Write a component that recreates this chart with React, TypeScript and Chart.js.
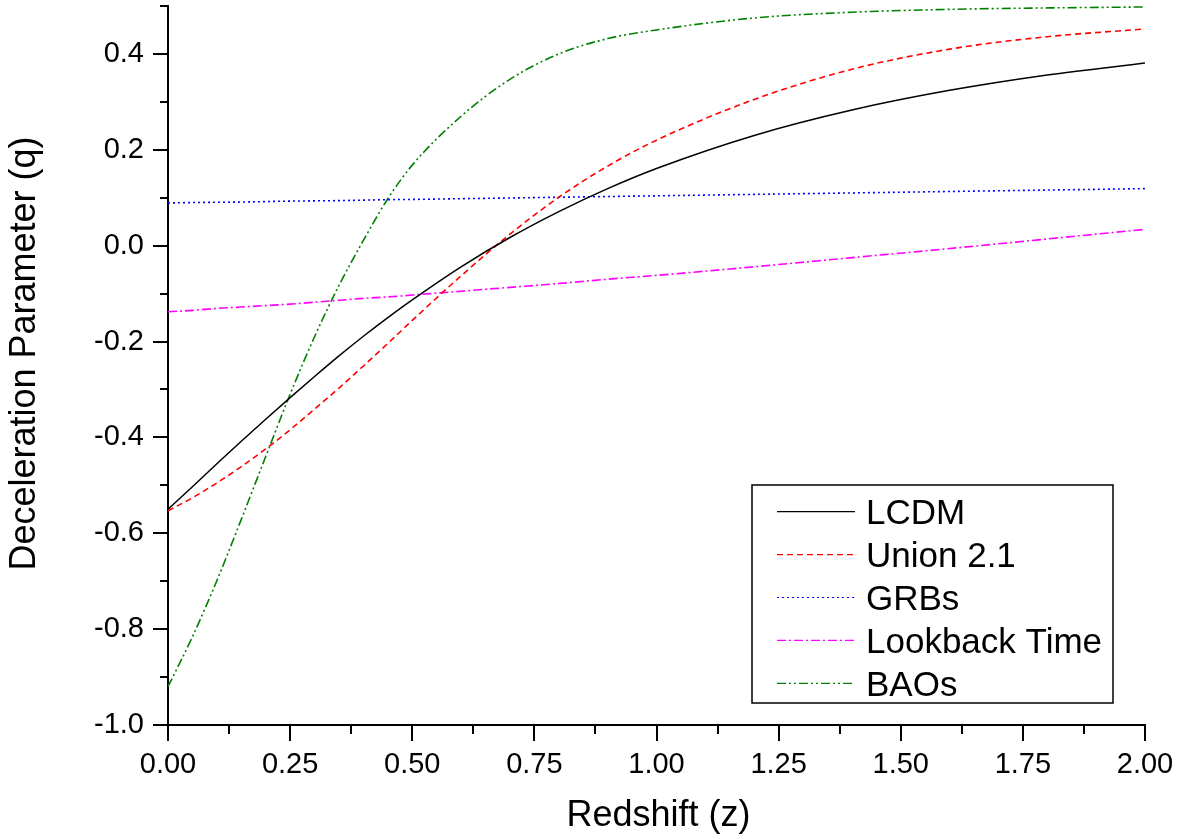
import React, { useEffect, useRef } from 'react';
import { Chart, registerables } from 'chart.js';

Chart.register(...registerables);

// ---- data ----
const redshift = [0, 0.05, 0.1, 0.15, 0.2, 0.25, 0.3, 0.35, 0.4, 0.45, 0.5, 0.6, 0.7, 0.8, 0.9, 1.0, 1.2, 1.4, 1.6, 1.8, 2.0];
const lcdm = [-0.55, -0.503, -0.455, -0.408, -0.362, -0.317, -0.273, -0.23, -0.189, -0.15, -0.113, -0.044, 0.017, 0.071, 0.119, 0.161, 0.23, 0.283, 0.324, 0.356, 0.381];
const union21 = [-0.553, -0.526, -0.495, -0.461, -0.424, -0.384, -0.341, -0.297, -0.251, -0.204, -0.156, -0.063, 0.024, 0.101, 0.166, 0.22, 0.305, 0.368, 0.41, 0.436, 0.452];
const grbs = [0.089, 0.09, 0.0905, 0.091, 0.092, 0.093, 0.0935, 0.094, 0.095, 0.096, 0.0965, 0.098, 0.0995, 0.101, 0.1025, 0.104, 0.107, 0.11, 0.113, 0.116, 0.119];
const lookback = [-0.138, -0.135, -0.131, -0.128, -0.125, -0.122, -0.118, -0.114, -0.11, -0.107, -0.103, -0.095, -0.087, -0.079, -0.07, -0.062, -0.044, -0.025, -0.006, 0.014, 0.034];
const baos = [-0.92, -0.816, -0.699, -0.571, -0.44, -0.31, -0.19, -0.083, 0.011, 0.098, 0.168, 0.27, 0.347, 0.4, 0.432, 0.45, 0.475, 0.487, 0.493, 0.496, 0.498];

const seriesNames = ['LCDM', 'Union 2.1', 'GRBs', 'Lookback Time', 'BAOs'];
const seriesValues = [lcdm, union21, grbs, lookback, baos];
const seriesColors = ['#000000', '#ff0000', '#0000ff', '#ff00ff', '#008000'];
const seriesDashes: number[][] = [[], [6, 4], [2, 3], [9, 3, 2, 3], [9, 3, 2, 3, 2, 3]];

const xMin = 0;
const xMax = 2;
const xStep = 0.25;
const yMin = -1;
const yMax = 0.5;
const yStep = 0.1;
const xAxisTitle = 'Redshift (z)';
const yAxisTitle = 'Deceleration Parameter (q)';

const FONT = '"Liberation Sans", Arial, sans-serif';

const decorPlugin = {
  id: 'decor',
  afterDraw(chart: any) {
    const ctx = chart.ctx as CanvasRenderingContext2D;
    const xs = chart.scales.x;
    const ys = chart.scales.y;
    const area = chart.chartArea;
    ctx.save();
    ctx.strokeStyle = '#000';
    ctx.lineWidth = 2;
    ctx.setLineDash([]);
    // y ticks (major every 0.2, minor between)
    for (const t of ys.ticks) {
      const major = Math.abs(Math.round(t.value * 10)) % 2 === 0;
      const py = Math.round(ys.getPixelForValue(t.value));
      const len = major ? 15 : 8;
      ctx.beginPath();
      ctx.moveTo(area.left - len, py);
      ctx.lineTo(area.left, py);
      ctx.stroke();
    }
    // x ticks (major at labels, minor at midpoints)
    const xt = xs.ticks.map((t: any) => t.value);
    xt.forEach((v: number, i: number) => {
      const px = Math.round(xs.getPixelForValue(v));
      ctx.beginPath();
      ctx.moveTo(px, area.bottom);
      ctx.lineTo(px, area.bottom + 16);
      ctx.stroke();
      if (i < xt.length - 1) {
        const pm = Math.round(xs.getPixelForValue((v + xt[i + 1]) / 2));
        ctx.beginPath();
        ctx.moveTo(pm, area.bottom);
        ctx.lineTo(pm, area.bottom + 9);
        ctx.stroke();
      }
    });

    // axis titles
    ctx.fillStyle = '#000';
    ctx.font = `36px ${FONT}`;
    ctx.textAlign = 'center';
    ctx.textBaseline = 'alphabetic';
    ctx.fillText(xAxisTitle, (area.left + area.right) / 2 + 2, 826);
    ctx.save();
    ctx.translate(35, (area.top + area.bottom) / 2 - 12);
    ctx.rotate(-Math.PI / 2);
    ctx.fillText(yAxisTitle, 0, 0);
    ctx.restore();

    // legend box
    const bx = 752, by = 485, bw = 361, bh = 218;
    ctx.lineWidth = 1.5;
    ctx.strokeStyle = '#000';
    ctx.strokeRect(bx, by, bw, bh);
    ctx.font = `35px ${FONT}`;
    ctx.textAlign = 'left';
    seriesNames.forEach((name, i) => {
      const cy = 511.7 + i * 42.9;
      ctx.save();
      ctx.strokeStyle = seriesColors[i];
      ctx.lineWidth = 1.2;
      ctx.setLineDash(seriesDashes[i]);
      ctx.beginPath();
      ctx.moveTo(777, cy);
      ctx.lineTo(855, cy);
      ctx.stroke();
      ctx.restore();
      ctx.fillStyle = '#000';
      ctx.fillText(name, 866, cy + 12.5);
    });
    ctx.restore();
  },
};

export default function App() {
  const canvasRef = useRef<HTMLCanvasElement | null>(null);

  useEffect(() => {
    const canvas = canvasRef.current;
    if (!canvas) return;
    const datasets = seriesNames.map((name, i) => ({
      label: name,
      data: redshift.map((z, j) => ({ x: z, y: seriesValues[i][j] })),
      borderColor: seriesColors[i],
      backgroundColor: seriesColors[i],
      borderWidth: i === 0 ? 1.5 : 1.6,
      borderDash: seriesDashes[i],
      pointRadius: 0,
      fill: false,
      cubicInterpolationMode: 'monotone' as const,
    }));
    const chart = new Chart(canvas, {
      type: 'line',
      data: { datasets },
      options: {
        responsive: false,
        animation: false,
        events: [],
        layout: { padding: { left: 0, top: 6, right: 44, bottom: 0 } },
        plugins: { legend: { display: false }, tooltip: { enabled: false }, title: { display: false } },
        scales: {
          x: {
            type: 'linear',
            min: xMin,
            max: xMax,
            grid: { display: true, drawOnChartArea: false, drawTicks: true, tickLength: 16, color: 'rgba(0,0,0,0)', tickColor: 'rgba(0,0,0,0)' },
            border: { display: true, color: '#000', width: 2 },
            ticks: {
              stepSize: xStep,
              padding: 7,
              color: '#000',
              font: { family: FONT, size: 29 },
              maxRotation: 0,
              autoSkip: false,
              callback: (v: any) => Number(v).toFixed(2),
            },
            afterFit: (s: any) => {
              s.height = 114;
              s.paddingLeft = 0;
              s.paddingRight = 0;
            },
          },
          y: {
            type: 'linear',
            min: yMin,
            max: yMax,
            grid: { display: true, drawOnChartArea: false, drawTicks: true, tickLength: 15, color: 'rgba(0,0,0,0)', tickColor: 'rgba(0,0,0,0)' },
            border: { display: true, color: '#000', width: 2 },
            ticks: {
              stepSize: yStep,
              padding: 9,
              color: '#000',
              font: { family: FONT, size: 29 },
              autoSkip: false,
              callback: (v: any) => {
                const k = Math.round(Number(v) * 10);
                return Math.abs(k) % 2 === 0 ? (k / 10).toFixed(1) : '';
              },
            },
            afterFit: (s: any) => {
              s.width = 168;
              s.paddingTop = 0;
              s.paddingBottom = 0;
            },
          },
        },
      },
      plugins: [decorPlugin],
    });
    return () => chart.destroy();
  }, []);

  return (
    <div style={{ position: 'fixed', left: 0, top: 0, width: 1189, height: 839, background: '#fff' }}>
      <canvas ref={canvasRef} width={1189} height={839} style={{ display: 'block' }} />
    </div>
  );
}
